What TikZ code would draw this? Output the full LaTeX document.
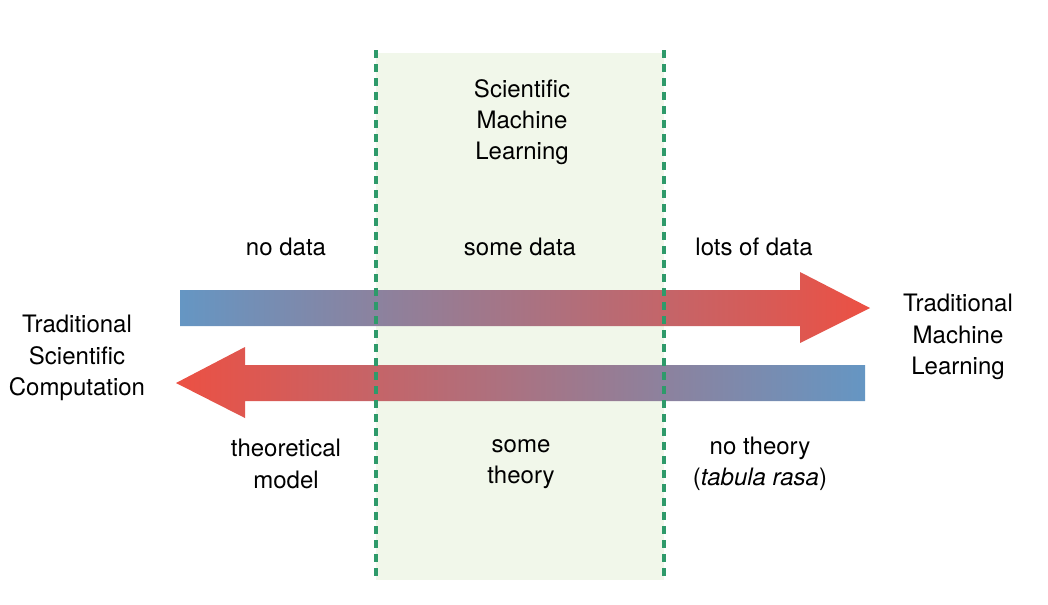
\documentclass[tikz,border=0pt]{standalone}
\usepackage{fontspec}
\setmainfont{TeX Gyre Heros}
\begin{document}
\begin{tikzpicture}[x=0.75pt,y=-0.75pt,
  lbl/.style={align=center,font=\fontsize{18}{23.5}\selectfont,inner sep=0pt},
  sep/.style={draw=gsep,line width=3.2pt,dash pattern=on 6pt off 4.5pt}]
\definecolor{gsep}{HTML}{2E9A6A}
\definecolor{gfill}{HTML}{F1F7EA}
\definecolor{ablue}{HTML}{6596C3}
\definecolor{ared}{HTML}{EC5043}
\useasboundingbox (0,0) rectangle (1048,604);
\fill[gfill] (376,53) rectangle (664,580);
\shade[left color=ablue,right color=ared] (180,290) -- (800,290) -- (800,272) -- (870,308) -- (800,343) -- (800,326) -- (180,326) -- cycle;
\shade[left color=ared,right color=ablue] (865,365) -- (245,365) -- (245,347) -- (176,383) -- (245,418) -- (245,401) -- (865,401) -- cycle;
\coordinate (l1) at (376,50); \coordinate (l2) at (376,580);
\coordinate (r1) at (664,50); \coordinate (r2) at (664,580);
\draw[sep] (l1) -- (l2);
\draw[sep] (r1) -- (r2);
\node[lbl] (sml) at (522,122) {Scientific\\Machine\\Learning};
\node[lbl] (nd) at (286,247) {no data};
\node[lbl] (sd) at (520,247) {some data};
\node[lbl] (ld) at (754,247) {lots of data};
\node[lbl] (tsc) at (77,358) {Traditional\\Scientific\\Computation};
\node[lbl] (tml) at (958,337) {Traditional\\Machine\\Learning};
\node[lbl] (tm) at (286,464) {theoretical\\model};
\node[lbl] (st) at (521,464) {some\\theory};
\node[lbl] (nt) at (760,464) {no theory\\(\textit{tabula rasa})};
\end{tikzpicture}
\end{document}
